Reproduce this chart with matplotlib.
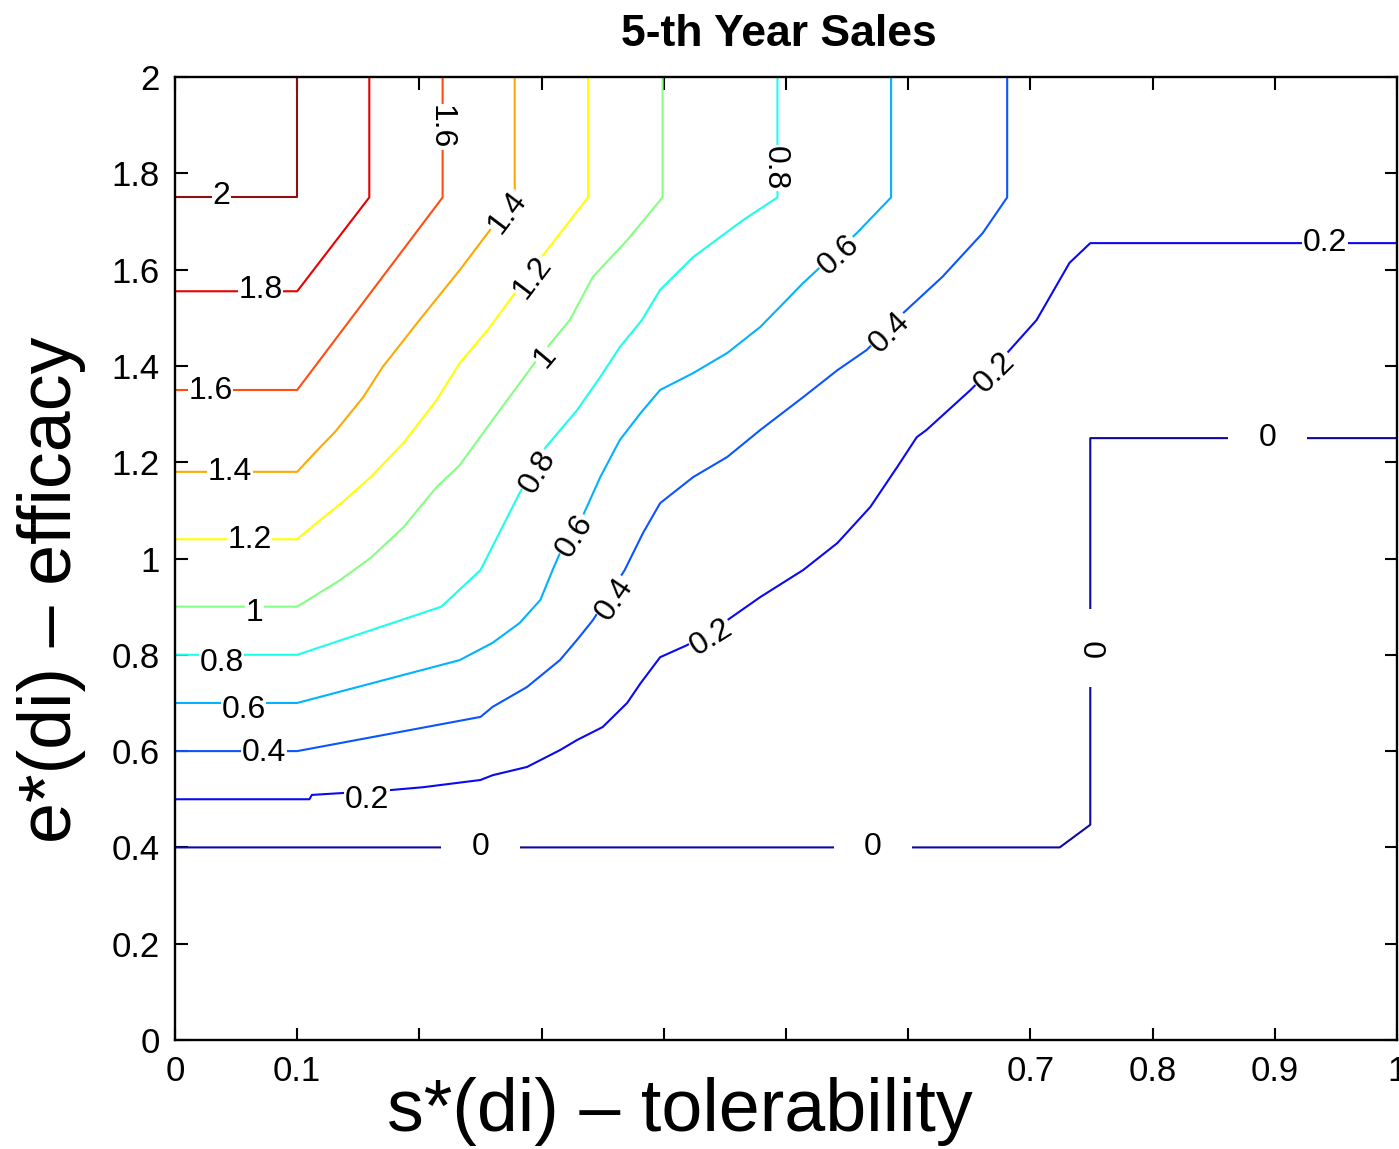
import matplotlib.pyplot as plt
import numpy as np

plt.rcParams['font.family'] = ['Liberation Sans', 'DejaVu Sans']

# contour levels of 5th year sales, traced as polylines (tolerability, efficacy)
levels = [0, 0.2, 0.4, 0.6, 0.8, 1.0, 1.2, 1.4, 1.6, 1.8, 2.0]

x_000 = [0, 0.724, 0.749, 0.749, 1]
y_000 = [0.4, 0.4, 0.447, 1.25, 1.25]

x_020 = [0, 0.11, 0.112, 0.176, 0.203, 0.25, 0.26, 0.288, 0.315, 0.329, 0.35, 0.37, 0.381,
         0.397, 0.419, 0.452, 0.479, 0.514, 0.542, 0.569, 0.591, 0.607, 0.615, 0.651, 0.681,
         0.705, 0.732, 0.749, 1]
y_020 = [0.5, 0.5, 0.509, 0.519, 0.525, 0.54, 0.55, 0.567, 0.602, 0.623, 0.65, 0.7, 0.741,
         0.795, 0.82, 0.872, 0.92, 0.976, 1.032, 1.107, 1.19, 1.252, 1.267, 1.35, 1.427,
         1.495, 1.614, 1.655, 1.655]

x_040 = [0, 0.1, 0.25, 0.26, 0.288, 0.315, 0.329, 0.342, 0.368, 0.383, 0.397, 0.424, 0.452,
         0.479, 0.514, 0.542, 0.566, 0.596, 0.628, 0.661, 0.681, 0.681]
y_040 = [0.6, 0.6, 0.671, 0.692, 0.733, 0.789, 0.831, 0.872, 0.976, 1.053, 1.115, 1.169, 1.211,
         1.267, 1.335, 1.391, 1.433, 1.51, 1.585, 1.676, 1.75, 2]

x_060 = [0, 0.1, 0.233, 0.26, 0.282, 0.299, 0.309, 0.315, 0.334, 0.348, 0.364, 0.381, 0.397,
         0.424, 0.452, 0.479, 0.514, 0.558, 0.586, 0.586]
y_060 = [0.7, 0.7, 0.789, 0.825, 0.866, 0.914, 0.976, 1.011, 1.09, 1.169, 1.246, 1.302, 1.35,
         1.385, 1.427, 1.481, 1.572, 1.676, 1.75, 2]

x_080 = [0, 0.1, 0.218, 0.25, 0.282, 0.303, 0.329, 0.348, 0.364, 0.382, 0.397, 0.424, 0.465,
         0.493, 0.493]
y_080 = [0.8, 0.8, 0.9, 0.976, 1.136, 1.23, 1.308, 1.377, 1.439, 1.495, 1.558, 1.626, 1.703,
         1.75, 2]

x_100 = [0, 0.1, 0.135, 0.16, 0.187, 0.214, 0.233, 0.26, 0.296, 0.323, 0.342, 0.37, 0.399, 0.399]
y_100 = [0.9, 0.9, 0.955, 1.001, 1.065, 1.148, 1.194, 1.288, 1.412, 1.495, 1.585, 1.661, 1.75, 2]

x_120 = [0, 0.1, 0.116, 0.137, 0.16, 0.187, 0.214, 0.233, 0.256, 0.274, 0.3, 0.338, 0.338]
y_120 = [1.04, 1.04, 1.074, 1.117, 1.169, 1.24, 1.329, 1.406, 1.475, 1.537, 1.626, 1.75, 2]

x_140 = [0, 0.1, 0.115, 0.131, 0.154, 0.17, 0.2, 0.233, 0.278, 0.278]
y_140 = [1.18, 1.18, 1.221, 1.263, 1.335, 1.398, 1.495, 1.599, 1.75, 2]

x_160 = [0, 0.1, 0.219, 0.219]
y_160 = [1.35, 1.35, 1.75, 2]

x_180 = [0, 0.1, 0.159, 0.159]
y_180 = [1.555, 1.555, 1.75, 2]

x_200 = [0, 0.1, 0.1]
y_200 = [1.75, 1.75, 2]

paths = [(x_000, y_000), (x_020, y_020), (x_040, y_040), (x_060, y_060), (x_080, y_080),
         (x_100, y_100), (x_120, y_120), (x_140, y_140), (x_160, y_160), (x_180, y_180),
         (x_200, y_200)]

# jet-like colours, one per level
line_colors = ['#0c0c9c', '#0a0aee', '#0a55ff', '#00b2ff', '#1cffe8', '#84ff84',
               '#ffff00', '#ffa800', '#ff4e10', '#e60000', '#8c1010']

# inline labels: level, x, y, rotation
label_spots = [
    (2.0, 0.038, 1.753, 0), (1.8, 0.07, 1.557, 0), (1.6, 0.029, 1.348, 0),
    (1.4, 0.045, 1.18, 0), (1.2, 0.061, 1.038, 0), (1.0, 0.065, 0.887, 0),
    (0.8, 0.038, 0.783, 0), (0.6, 0.056, 0.685, 0), (0.4, 0.073, 0.596, 0),
    (0.2, 0.157, 0.498, 0),
    (1.6, 0.217, 1.896, -90), (0.8, 0.491, 1.811, -90),
    (1.4, 0.272, 1.718, 53), (1.2, 0.293, 1.583, 53), (1.0, 0.303, 1.418, 50),
    (0.8, 0.297, 1.18, 60), (0.6, 0.327, 1.047, 58), (0.4, 0.36, 0.916, 56),
    (0.2, 0.439, 0.837, 32), (0.6, 0.543, 1.63, 42), (0.4, 0.585, 1.47, 45),
    (0.2, 0.671, 1.387, 45), (0.2, 0.941, 1.655, 0),
]
zero_spots = [(0.25, 0.401, 0), (0.571, 0.401, 0), (0.894, 1.25, 0), (0.755, 0.814, 90)]

xticks = np.arange(0, 1.01, 0.1)
xtick_labels = ['0', '0.1', '', '', '', '', '', '0.7', '0.8', '0.9', '1']
yticks = np.arange(0, 2.01, 0.2)
ytick_labels = ['0', '0.2', '0.4', '0.6', '0.8', '1', '1.2', '1.4', '1.6', '1.8', '2']

fig = plt.figure(figsize=(13.99, 11.49), dpi=100)
ax = fig.add_axes([175 / 1399, 109 / 1149, 1222 / 1399, 963 / 1149])

for (xs, ys), col in zip(paths, line_colors):
    ax.plot(xs, ys, color=col, lw=1.5, zorder=2)

for lev, x, y, rot in label_spots:
    ax.text(x, y, f'{lev:g}', fontsize=23, ha='center', va='center', rotation=rot,
            rotation_mode='anchor', zorder=4,
            bbox=dict(boxstyle='square,pad=0.02', fc='white', ec='none'))

for x, y, rot in zero_spots:
    ax.text(x, y, '0', fontsize=23, ha='center', va='center', rotation=rot, zorder=4,
            bbox=dict(boxstyle='square,pad=0.95', fc='white', ec='none'))

ax.set_xlim(0, 1)
ax.set_ylim(0, 2)
ax.set_xticks(xticks)
ax.set_xticklabels(xtick_labels)
ax.set_yticks(yticks)
ax.set_yticklabels(ytick_labels)
ax.tick_params(direction='in', length=9, width=1.5, top=True, right=True,
               labelsize=25, pad=11)
for sp in ax.spines.values():
    sp.set_linewidth(1.7)

ax.set_title('5-th Year Sales', fontsize=32, fontweight='bold', pad=22, x=0.494)
fig.text(680 / 1399, 1 - 1112 / 1149, 's*(di) \u2013 tolerability', fontsize=53,
         ha='center', va='center')
fig.text(52 / 1399, 1 - 590 / 1149, 'e*(di) \u2013 efficacy', fontsize=53,
         ha='center', va='center', rotation=90)

fig.savefig('out.png', dpi=100)
